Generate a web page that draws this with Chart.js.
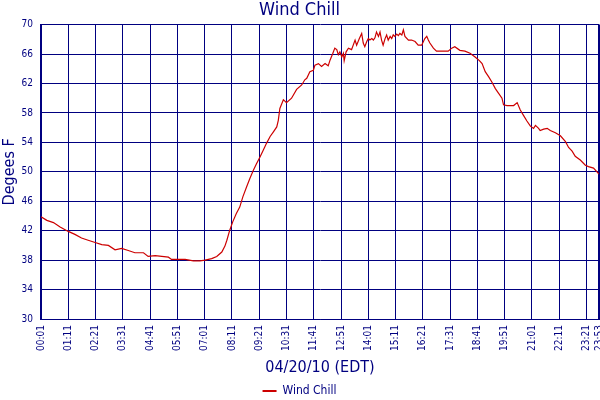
<!DOCTYPE html>
<html>
<head>
    <title>Wind Chill</title>
    <script src="https://cdn.jsdelivr.net/npm/chart.js"></script>
    <style>
    body { margin: 0; background: #fff; }
    </style>
</head>
<body>
    <canvas id="windChart" width="600" height="400"></canvas>
    <script>
    // readings of 04/20/10
    const readTimes = [
        '00:01','00:16','00:33','00:50','01:11','01:28','01:45','02:02','02:20','02:37',
        '02:54','03:11','03:28','03:45','04:02','04:24','04:36','04:54','05:11','05:28',
        '05:36','06:11','06:32','06:49','07:02','07:19','07:32','07:45','07:53','07:58',
        '08:05','08:13','08:22','08:31','08:39','08:49','08:57','09:06','09:14','09:23',
        '09:31','09:40','09:49','09:57','10:06','10:10','10:14','10:23','10:31','10:44',
        '10:57','11:10','11:18','11:23','11:31','11:40','11:44','11:53','12:01','12:10',
        '12:18','12:23','12:30','12:35','12:40','12:44','12:48','12:53','12:57','12:59',
        '13:04','13:10','13:18','13:27','13:31','13:38','13:44','13:48','13:52','13:57',
        '14:01','14:05','14:10','14:14','14:18','14:22','14:27','14:31','14:35','14:39',
        '14:44','14:48','14:52','14:57','15:01','15:05','15:09','15:14','15:18','15:22',
        '15:27','15:31','15:35','15:44','15:52','16:01','16:09','16:18','16:26','16:31',
        '16:35','16:39','16:48','16:56','17:09','17:26','17:35','17:43','17:56','18:09',
        '18:22','18:35','18:46','18:53','19:01','19:10','19:18','19:27','19:35','19:44',
        '19:48','19:57','20:05','20:14','20:23','20:31','20:40','20:48','20:57','21:05',
        '21:10','21:18','21:22','21:31','21:40','21:48','22:01','22:14','22:27','22:35',
        '22:44','22:52','23:05','23:18','23:26','23:39','23:53'
    ];
    const windChill = [
        43.9, 43.4, 43.1, 42.5, 41.9, 41.5, 41.0, 40.7, 40.4, 40.1,
        40.0, 39.4, 39.6, 39.3, 39.0, 39.0, 38.5, 38.6, 38.5, 38.4,
        38.1, 38.1, 37.9, 37.9, 38.0, 38.2, 38.5, 39.1, 39.9, 40.7,
        42.0, 43.2, 44.3, 45.2, 46.6, 48.0, 49.1, 50.2, 51.1, 52.0,
        52.9, 53.9, 54.8, 55.4, 56.1, 57.0, 58.6, 59.8, 59.4, 60.0,
        61.2, 61.8, 62.5, 62.7, 63.6, 63.8, 64.5, 64.7, 64.3, 64.7,
        64.4, 65.2, 66.1, 66.8, 66.6, 65.9, 66.3, 65.6, 66.1, 65.1,
        66.3, 66.8, 66.6, 67.9, 67.2, 68.1, 68.8, 67.5, 67.0, 67.7,
        68.1, 67.9, 68.1, 67.9, 68.2, 69.0, 68.4, 69.0, 67.9, 67.2,
        68.1, 68.6, 67.9, 68.4, 68.1, 68.6, 68.4, 68.7, 68.5, 68.8,
        68.6, 69.3, 68.4, 67.9, 67.9, 67.7, 67.2, 67.2, 68.1, 68.4,
        67.9, 67.5, 66.8, 66.4, 66.4, 66.4, 66.8, 67.0, 66.5, 66.4,
        66.1, 65.6, 65.1, 64.7, 63.6, 62.9, 62.2, 61.3, 60.7, 60.0,
        59.1, 59.0, 59.0, 59.0, 59.4, 58.4, 57.6, 56.9, 56.2, 55.9,
        56.3, 55.9, 55.6, 55.8, 55.9, 55.6, 55.3, 54.9, 54.1, 53.3,
        52.8, 52.1, 51.6, 50.9, 50.7, 50.5, 49.7
    ];
    const xTickLabels = [
        '00:01','01:11','02:21','03:31','04:41','05:51','07:01','08:11','09:21','10:31',
        '11:41','12:51','14:01','15:11','16:21','17:31','18:41','19:51','21:01','22:11',
        '23:21','23:53'
    ];
    const yTicks = [30, 34, 38, 42, 46, 50, 54, 58, 62, 66, 70];

    const navy = '#000080';
    const family = '"DejaVu Sans Condensed", "DejaVu Sans", sans-serif';

    function toMinutes(t) {
        const p = t.split(':');
        return parseInt(p[0], 10) * 60 + parseInt(p[1], 10);
    }
    function toClock(m) {
        const h = Math.floor(m / 60), mm = m % 60;
        return String(h).padStart(2, '0') + ':' + String(mm).padStart(2, '0');
    }

    const tickMinutes = xTickLabels.map(toMinutes);
    const points = readTimes.map((t, i) => ({ x: toMinutes(t), y: windChill[i] }));

    new Chart(document.getElementById('windChart'), {
        type: 'line',
        data: {
            datasets: [{
                label: 'Wind Chill',
                data: points,
                borderColor: '#cc0000',
                backgroundColor: '#cc0000',
                borderWidth: 1.2,
                pointRadius: 0,
                tension: 0
            }]
        },
        options: {
            responsive: false,
            animation: false,
            devicePixelRatio: 1,
            layout: { padding: { left: 0, right: 1, top: 0, bottom: -7 } },
            plugins: {
                title: {
                    display: true,
                    text: 'Wind Chill',
                    color: navy,
                    font: { family: family, size: 18, weight: 'normal' },
                    padding: { top: 0, bottom: 3 }
                },
                legend: {
                    position: 'bottom',
                    labels: {
                        color: navy,
                        font: { family: family, size: 12 },
                        padding: 4,
                        usePointStyle: true,
                        pointStyleWidth: 14,
                        generateLabels: chart => Chart.defaults.plugins.legend.labels.generateLabels(chart).map(l => {
                            l.pointStyle = 'line';
                            l.lineWidth = 2;
                            l.strokeStyle = '#cc0000';
                            return l;
                        })
                    }
                },
                tooltip: { enabled: false }
            },
            scales: {
                x: {
                    type: 'linear',
                    min: tickMinutes[0],
                    max: tickMinutes[tickMinutes.length - 1],
                    afterBuildTicks: scale => {
                        scale.ticks = tickMinutes.map(v => ({ value: v }));
                    },
                    afterFit: scale => {
                        scale.height = 62;
                        scale.paddingLeft = 0;
                        scale.paddingRight = 0;
                    },
                    ticks: {
                        autoSkip: false,
                        maxRotation: 90,
                        minRotation: 90,
                        padding: 6,
                        color: navy,
                        font: { family: family, size: 10 },
                        callback: v => toClock(v)
                    },
                    grid: {
                        color: navy,
                        drawTicks: false,
                        lineWidth: ctx => ctx.index === tickMinutes.length - 1 ? 2 : 1
                    },
                    border: { color: navy, width: 1 },
                    title: {
                        display: true,
                        text: '04/20/10 (EDT)',
                        color: navy,
                        font: { family: family, size: 16 },
                        padding: { top: 0, bottom: 4 }
                    }
                },
                y: {
                    min: yTicks[0],
                    max: yTicks[yTicks.length - 1],
                    afterBuildTicks: scale => {
                        scale.ticks = yTicks.map(v => ({ value: v }));
                    },
                    afterFit: scale => {
                        scale.width = 41;
                        scale.paddingTop = 0;
                        scale.paddingBottom = 0;
                    },
                    ticks: {
                        padding: 8,
                        color: navy,
                        font: { family: family, size: 10 }
                    },
                    grid: { color: navy, drawTicks: false, lineWidth: 1 },
                    border: { color: navy, width: 2 },
                    title: {
                        display: true,
                        text: 'Degees F',
                        color: navy,
                        font: { family: family, size: 16 },
                        padding: { top: 0, bottom: 0 }
                    }
                }
            }
        }
    });
    </script>
</body>
</html>
